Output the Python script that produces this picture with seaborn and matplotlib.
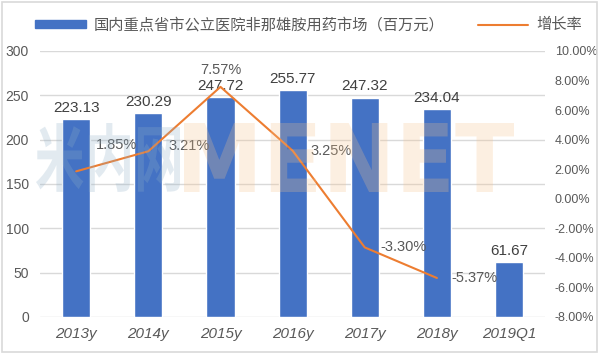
import numpy as np
import pandas as pd
import matplotlib
matplotlib.use('Agg')
import matplotlib.pyplot as plt
import seaborn as sns
from matplotlib.patches import Rectangle, PathPatch
from matplotlib.lines import Line2D
from matplotlib.ticker import FuncFormatter
from matplotlib.textpath import TextPath
from matplotlib.font_manager import FontProperties
from matplotlib.transforms import Affine2D

years = ['2013y', '2014y', '2015y', '2016y', '2017y', '2018y', '2019Q1']
market = [223.13, 230.29, 247.72, 255.77, 247.32, 234.04, 61.67]
growth = [1.85, 3.21, 7.57, 3.25, -3.30, -5.37]
bar_name = '国内重点省市公立医院非那雄胺用药市场（百万元）'
line_name = '增长率'

sns.set_theme(style='white')
plt.rcParams['font.family'] = ['Liberation Sans', 'Noto Sans CJK SC']

blue = '#4472C4'
orange = '#ED7D31'
grey = '#595959'

df = pd.DataFrame({'year': years, 'market': market})

fig = plt.figure(figsize=(5.99, 3.54), dpi=100)
ax = fig.add_axes([0.067, 0.105, 0.843, 0.751])

sns.barplot(data=df, x='year', y='market', color=blue, width=0.39,
            saturation=1, ax=ax, zorder=2)
ax.set_ylim(0, 300)
ax.set_yticks(np.arange(0, 301, 50))
ax.set_xlim(-0.5, len(years) - 0.5)
ax.yaxis.grid(True, color='#D9D9D9', linewidth=1, zorder=0)
ax.set_axisbelow(True)
ax.set_xlabel('')
ax.set_ylabel('')
for s in ax.spines.values():
    s.set_visible(False)
ax.tick_params(axis='both', length=0, colors=grey, labelsize=10)
ax.tick_params(axis='y', pad=8)
for lab in ax.get_xticklabels():
    lab.set_fontstyle('italic')
    lab.set_fontsize(11)
ax.tick_params(axis='x', pad=7)

for c in ax.containers:
    ax.bar_label(c, labels=[f'{v:.2f}' for v in market], padding=3,
                 fontsize=11, color='#404040')

ax2 = ax.twinx()
gx = np.arange(len(growth))
sns.lineplot(x=gx, y=growth, color=orange, linewidth=1.5, ax=ax2, sort=False, zorder=3)
ax2.set_ylim(-8, 10)
ax2.set_yticks(np.arange(-8, 10.1, 2))
ax2.yaxis.set_major_formatter(FuncFormatter(lambda v, p: f'{v:.2f}%'))
for s in ax2.spines.values():
    s.set_visible(False)
ax2.tick_params(axis='y', length=0, colors=grey, labelsize=9, pad=7)
ax2.grid(False)

# label offsets in points (dx, dy)
offs = [(29, 19), (29, 4), (0, 12), (28, 0), (28, 0), (27, 0)]
for i, v in enumerate(growth):
    dx, dy = offs[i]
    ax2.annotate(f'{v:.2f}%', (gx[i], v), xytext=(dx, dy), textcoords='offset points',
                 ha='center', va='center', fontsize=10.5, color=grey)


# watermark, squeezed into a box given in figure pixels (x0, y0 from top, x1, y1)
def watermark(txt, box, color, family):
    fp = FontProperties(family=family, weight='bold')
    tp = TextPath((0, 0), txt, size=100, prop=fp)
    ext = tp.get_extents()
    W, H = 599, 354
    x0, y0, x1, y1 = box
    sx = (x1 - x0) / W / ext.width
    sy = (y1 - y0) / H / ext.height
    tr = Affine2D().translate(-ext.x0, -ext.y0).scale(sx, sy).translate(x0 / W, 1 - y1 / H)
    fig.patches.append(PathPatch(tr.transform_path(tp), transform=fig.transFigure,
                                 facecolor=color, edgecolor='none', alpha=0.25, zorder=5))


watermark('米内网', (36, 123, 180, 192), '#8FAFC7', 'Noto Sans CJK SC')
watermark('MENET', (184, 123, 514, 192), '#F7C38B', 'DejaVu Sans')

handles = [Rectangle((0, 0), 1, 1, color=blue),
           Line2D([0], [0], color=orange, linewidth=1.5)]
leg = fig.legend(handles, [bar_name, line_name], loc='center', ncol=2,
                 bbox_to_anchor=(0.515, 0.93), frameon=False,
                 prop={'family': ['Noto Sans CJK SC'], 'size': 11},
                 handlelength=3.3, handleheight=0.45, columnspacing=2.2,
                 handletextpad=0.5)
for t in leg.get_texts():
    t.set_color(grey)

fig.patches.append(Rectangle((0.004, 0.006), 0.992, 0.988, transform=fig.transFigure,
                             fill=False, edgecolor='#D9D9D9', linewidth=1.2))

fig.savefig('out.png', dpi=100)
